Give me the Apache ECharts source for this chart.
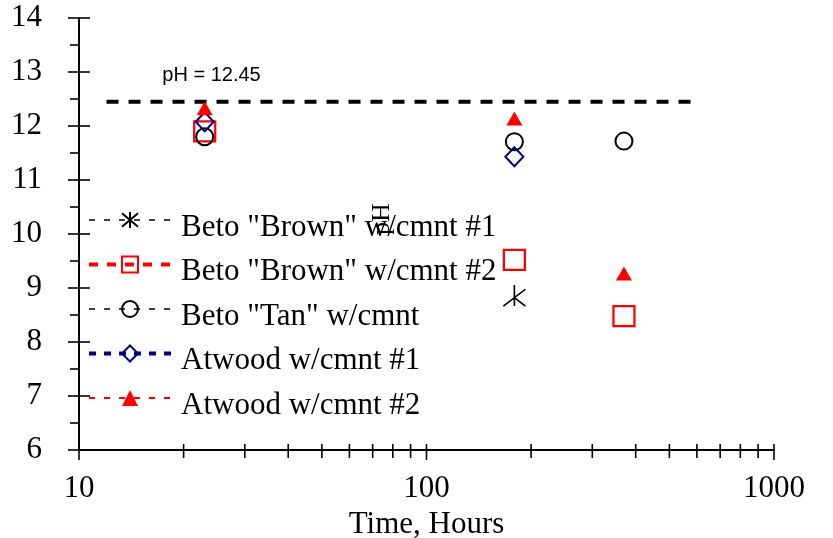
<!DOCTYPE html>
<html>
<head>
<meta charset="utf-8">
<script src="https://cdn.jsdelivr.net/npm/echarts@6/dist/echarts.min.js"></script>
<style>
  html, body { margin: 0; padding: 0; background: #fff; }
  #chart { width: 833px; height: 538px; }
</style>
</head>
<body>
<div id="chart"></div>
<script>
// Series names (legend order)
const seriesNames = [
  'Beto "Brown" w/cmnt #1',
  'Beto "Brown" w/cmnt #2',
  'Beto "Tan" w/cmnt',
  'Atwood w/cmnt #1',
  'Atwood w/cmnt #2'
];

// Measured pH against elapsed time (hours)
const brown1Hours = [179];
const brown1PH = [8.86];
const brown2Hours = [23, 179, 370];
const brown2PH = [11.9, 9.52, 8.48];
const tanHours = [23, 179, 370];
const tanPH = [11.8, 11.71, 11.72];
const atwood1Hours = [23, 179];
const atwood1PH = [12.08, 11.43];
const atwood2Hours = [23, 179, 370];
const atwood2PH = [12.33, 12.14, 9.27];

// Reference level
const refHours = [12, 600];
const refPH = 12.45;

// Axis ticks
const yRange = [6, 14];
const xRange = [10, 1000];
const xMajorTicks = [10, 100, 1000];
const xMinorTicks = [20, 30, 40, 50, 60, 70, 80, 90, 200, 300, 400, 500, 600, 700, 800, 900];

const serif = 'Liberation Serif';
const pairs = (xs, ys) => xs.map((x, i) => [x, ys[i]]);

// stroke-only marker shapes
const asteriskPath = 'path://M0,0L10,10M10,0L0,10M5,-1L5,11';
const brokenAsteriskPath = 'path://M5,0L5,10M0,10L10,2M5,6L10,10';

const hollow = (c, w) => ({ color: 'rgba(0,0,0,0)', borderColor: c, borderWidth: w });

function pointSeries(name, data, symbol, size, itemStyle) {
  return {
    type: 'line',
    name: name,
    data: data,
    symbol: symbol,
    symbolSize: size,
    showSymbol: true,
    lineStyle: { opacity: 0 },
    itemStyle: itemStyle,
    emphasis: { disabled: true },
    z: 3
  };
}

function tickSeries(values, below) {
  return {
    type: 'custom',
    data: values.map(v => [v, yRange[0]]),
    silent: true,
    clip: false,
    z: 4,
    renderItem: function (params, api) {
      const p = api.coord([api.value(0), api.value(1)]);
      return {
        type: 'line',
        shape: { x1: p[0], y1: p[1] - 6, x2: p[0], y2: p[1] + below },
        style: { stroke: '#000', lineWidth: 1.6 }
      };
    }
  };
}

const brown1Data = pairs(brown1Hours, brown1PH).map(v => ({ value: v, symbol: brokenAsteriskPath }));

const chart = echarts.init(document.getElementById('chart'), null, { renderer: 'canvas' });

const option = {
  animation: false,
  backgroundColor: '#fff',
  grid: { left: 79, right: 59, top: 18, bottom: 88, outerBoundsMode: 'none' },
  xAxis: {
    type: 'log',
    logBase: 10,
    min: xRange[0],
    max: xRange[1],
    name: 'Time, Hours',
    nameLocation: 'middle',
    nameGap: 52,
    nameTextStyle: { fontFamily: serif, fontSize: 31, color: '#000' },
    axisLine: { show: true, lineStyle: { color: '#000', width: 2 } },
    axisTick: { show: false },
    minorTick: { show: false },
    splitLine: { show: false },
    axisLabel: { fontFamily: serif, fontSize: 31, color: '#000', margin: 23, formatter: v => String(v) }
  },
  yAxis: [
    {
      type: 'value',
      min: yRange[0],
      max: yRange[1],
      interval: 1,
      name: 'pH',
      nameLocation: 'middle',
      nameRotate: 90,
      nameGap: -316,
      nameTextStyle: { fontFamily: serif, fontSize: 26, color: '#000', padding: [0, 0, 0, 30] },
      axisLine: { show: true, lineStyle: { color: '#000', width: 2 } },
      axisTick: { show: true, inside: false, length: 11, lineStyle: { color: '#000', width: 1.6 } },
      minorTick: { show: true, splitNumber: 2, length: 9, lineStyle: { color: '#000', width: 1.6 } },
      splitLine: { show: false },
      axisLabel: { fontFamily: serif, fontSize: 31, color: '#000', margin: 37 }
    },
    {
      type: 'value',
      min: yRange[0],
      max: yRange[1],
      interval: 1,
      position: 'left',
      axisLine: { show: false },
      axisTick: { show: true, inside: true, length: 11, lineStyle: { color: '#000', width: 1.6 } },
      axisLabel: { show: false },
      splitLine: { show: false }
    }
  ],
  legend: {
    orient: 'vertical',
    left: 87,
    top: 197,
    padding: 0,
    itemWidth: 82,
    itemHeight: 20,
    itemGap: -1.5,
    selectedMode: false,
    // top padding on the name drops it a little below its marker row
    formatter: name => '{t|' + name + '}',
    textStyle: {
      fontFamily: serif, fontSize: 31, color: '#000',
      rich: { t: { fontFamily: serif, fontSize: 31, color: '#000', lineHeight: 26, padding: [15, 0, 0, 5] } }
    },
    data: [
      { name: seriesNames[0], lineStyle: { color: '#000', width: 1.5, type: [6, 9], opacity: 1 } },
      { name: seriesNames[1], lineStyle: { color: '#ff0000', width: 4, type: [9, 9], opacity: 1 } },
      { name: seriesNames[2], lineStyle: { color: '#000', width: 1.5, type: [6, 9], opacity: 1 } },
      { name: seriesNames[3], lineStyle: { color: '#000080', width: 4, type: [7, 8], opacity: 1 } },
      { name: seriesNames[4], lineStyle: { color: '#ff0000', width: 2, type: [6, 9], opacity: 1 } }
    ]
  },
  series: [
    pointSeries(seriesNames[0], brown1Data, asteriskPath, [22, 21], hollow('#000', 1.6)),
    pointSeries(seriesNames[1], pairs(brown2Hours, brown2PH), 'rect', [21, 20], hollow('#ff0000', 2.2)),
    pointSeries(seriesNames[2], pairs(tanHours, tanPH), 'circle', 17, hollow('#000', 2)),
    pointSeries(seriesNames[3], pairs(atwood1Hours, atwood1PH), 'diamond', [18, 19], hollow('#000080', 2)),
    pointSeries(seriesNames[4], pairs(atwood2Hours, atwood2PH), 'triangle', [16, 14], { color: '#ff0000', borderWidth: 0 }),
    {
      type: 'line',
      name: 'reference',
      data: refHours.map((h, i) => ({
        value: [h, refPH],
        label: i === 0 ? {
          show: true,
          position: 'top',
          offset: [105, -11],
          formatter: p => 'pH = ' + p.value[1],
          fontFamily: 'Liberation Sans',
          fontSize: 20,
          color: '#000'
        } : { show: false }
      })),
      symbol: 'circle',
      symbolSize: 0,
      showSymbol: true,
      lineStyle: { color: '#000', width: 4, type: [12, 10] },
      itemStyle: { color: '#000' },
      emphasis: { disabled: true },
      z: 2
    },
    tickSeries(xMajorTicks, 10),
    tickSeries(xMinorTicks, 8)
  ]
};

chart.setOption(option);
</script>
</body>
</html>
